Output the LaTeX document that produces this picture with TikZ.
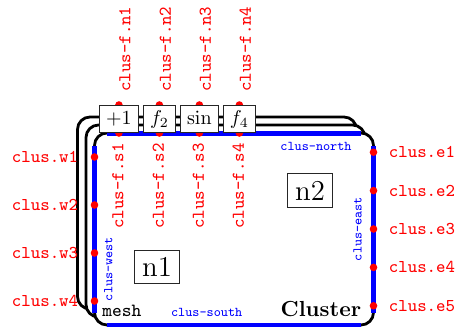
\documentclass[tikz,border=0pt]{standalone}
\usetikzlibrary{positioning,calc}
\pgfdeclarelayer{frames}
\pgfdeclarelayer{ports}
\pgfsetlayers{frames,ports,main}
\begin{document}
\begin{tikzpicture}[x=0.5pt,y=-0.5pt,
  clusframe/.style={draw=black, line width=1.4pt, fill=white, rounded corners=6.25pt,
    minimum width=139.5pt, minimum height=96pt, inner sep=0pt, outer sep=0pt},
  sideline/.style={draw=blue, line width=2.5pt},
  sidelbl/.style={text=blue, font=\fontsize{6.7}{8}\selectfont\ttfamily, inner sep=0pt},
  portdot/.style={circle, fill=red, inner sep=0pt, minimum size=3.8pt},
  portlbl/.style={text=red, font=\fontsize{9}{11}\selectfont\ttfamily, inner sep=0pt},
  fnbox/.style={draw=black!85, line width=0.5pt, fill=white, minimum height=13.5pt,
    inner xsep=3.33pt, inner ysep=0pt, text height=7pt, text depth=2pt},
  nodebox/.style={draw=black!85, line width=0.5pt, font=\fontsize{14.4}{17}\selectfont,
    inner sep=3.7pt},
  node distance=2pt]
\useasboundingbox (0,0) rectangle (456,327);

\begin{pgfonlayer}{frames}
  % stacked cluster frames, back to front
  \node[clusframe] (back) at (217,213) {};
  \node[clusframe] (mid) at (225.5,221) {};
  \node[clusframe] (clus) at (234,229) {};
  % straight sides of the front frame
  \draw[sideline] ([xshift=6.25pt]clus.north west) -- ([xshift=-6.25pt]clus.north east);
  \draw[sideline] ([xshift=6.25pt]clus.south west) -- ([xshift=-6.25pt]clus.south east);
  \draw[sideline] ([yshift=-6.25pt]clus.north west) -- ([yshift=6.25pt]clus.south west);
  \draw[sideline] ([yshift=-6.25pt]clus.north east) -- ([yshift=6.25pt]clus.south east);
  \node[sidelbl] (lblnorth) at (316,146.5) {clus-north};
  \node[sidelbl] (lblsouth) at (206.7,312) {clus-south};
  \node[sidelbl, rotate=90] (lblwest) at (108.3,269) {clus-west};
  \node[sidelbl, rotate=90] (lbleast) at (357.5,229) {clus-east};
  % contents
  \node[nodebox] (nA) at (157,267) {n1};
  \node[nodebox] (nB) at (310,190.8) {n2};
  \node[font=\fontsize{9.3}{11}\selectfont\ttfamily, anchor=base west, inner sep=0pt]
    (meshlbl) at (102,316) {mesh};
  \node[font=\fontsize{10.9}{13}\selectfont\bfseries, anchor=base east, inner sep=0pt]
    (clusname) at (361.5,316) {Cluster};
\end{pgfonlayer}

% function boxes on the top edge
\node[fnbox, anchor=south west] (f1) at (99,133) {$+1$};
\node[fnbox, right=of f1] (f2) {$f_2$};
\node[fnbox, right=of f2] (f3) {$\sin$};
\node[fnbox, right=of f3] (f4) {$f_4$};

\begin{pgfonlayer}{ports}
  \foreach \i in {1,...,4} {
    \node[portdot] (pn\i) at (f\i.north) {};
    \node[portdot] (ps\i) at (f\i.south) {};
  }
  \foreach \i in {1,...,4}
    \node[portdot] (w\i) at ($(clus.north west)!{(\i-0.5)/4}!(clus.south west)$) {};
  \foreach \i in {1,...,5}
    \node[portdot] (e\i) at ($(clus.north east)!{(\i-0.5)/5}!(clus.south east)$) {};
\end{pgfonlayer}

% port labels
\foreach \i in {1,...,4} {
  \node[portlbl, anchor=east] (wl\i) at ([xshift=-8pt]w\i.center) {clus.w\i};
  \node[portlbl, rotate=90, anchor=west] (nl\i) at ([xshift=3pt,yshift=6.5pt]pn\i.center) {clus-f.n\i};
  \node[portlbl, rotate=90, anchor=east] (sl\i) at ([xshift=-0.5pt,yshift=-5pt]ps\i.center) {clus-f.s\i};
}
\foreach \i in {1,...,5}
  \node[portlbl, anchor=west] (el\i) at ([xshift=7.5pt]e\i.center) {clus.e\i};
\end{tikzpicture}
\end{document}
